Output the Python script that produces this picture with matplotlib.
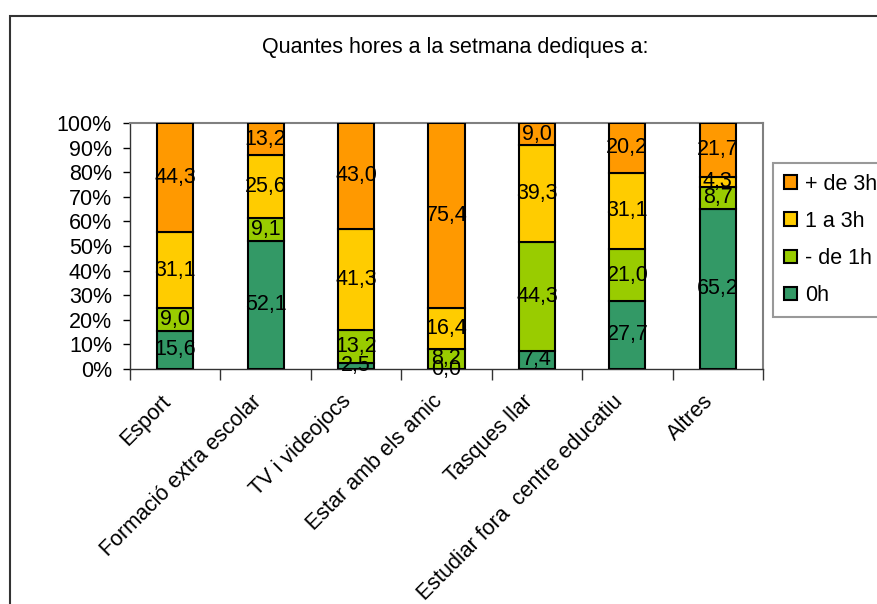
import matplotlib.pyplot as plt
from matplotlib.patches import Rectangle, Patch
from matplotlib.transforms import ScaledTranslation
import numpy as np

plt.rcParams['font.family'] = ['Liberation Sans', 'DejaVu Sans']

categories = ['Esport', 'Formació extra escolar', 'TV i videojocs',
              'Estar amb els amic', 'Tasques llar',
              'Estudiar fora  centre educatiu', 'Altres']
series_names = ['0h', '- de 1h', '1 a 3h', '+ de 3h']
h0 = [15.6, 52.1, 2.5, 0.0, 7.4, 27.7, 65.2]
menys1h = [9.0, 9.1, 13.2, 8.2, 44.3, 21.0, 8.7]
h1a3 = [31.1, 25.6, 41.3, 16.4, 39.3, 31.1, 4.3]
mes3h = [44.3, 13.2, 43.0, 75.4, 9.0, 20.2, 21.7]
colors = ['#339966', '#99CC00', '#FFCC00', '#FF9900']
fs = 15.5

fig = plt.figure(figsize=(8.77, 6.04), dpi=100)
# marc exterior del grafic
fig.patches.append(Rectangle((10 / 877, -0.1), 1.2, 1 - 16 / 604 + 0.1,
                             transform=fig.transFigure, fill=False,
                             edgecolor='#333333', linewidth=1.5))

ax = fig.add_axes([130 / 877, 1 - 369 / 604, 633 / 877, 246 / 604])
x = np.arange(len(categories))
bottom = np.zeros(len(categories))
for name, vals, col in zip(series_names, [h0, menys1h, h1a3, mes3h], colors):
    vals = np.array(vals)
    ax.bar(x, vals, 0.4, bottom=bottom, color=col, edgecolor='black',
           linewidth=1.5, label=name, zorder=3)
    for xi, b, v in zip(x, bottom, vals):
        ax.text(xi, b + v / 2, f'{v:.1f}'.replace('.', ','), ha='center',
                va='center', fontsize=fs, zorder=4)
    bottom += vals

ax.set_xlim(-0.5, len(categories) - 0.5)
ax.set_ylim(0, 100)
ax.set_yticks(np.arange(0, 101, 10))
ax.set_yticklabels([f'{v}%' for v in range(0, 101, 10)], fontsize=fs)
ax.tick_params(axis='y', length=5, width=1, pad=8)
ax.set_xticks(x)
ax.set_xticklabels(categories, rotation=45, ha='right', va='top',
                   rotation_mode='anchor', fontsize=fs)
ax.tick_params(axis='x', length=0, pad=0)
shift = ScaledTranslation(-0.15, -0.22, fig.dpi_scale_trans)
for lab in ax.get_xticklabels():
    lab.set_transform(lab.get_transform() + shift)
ax.set_xticks(np.arange(-0.5, len(categories)), minor=True)
ax.tick_params(axis='x', which='minor', length=8, width=1, color='#333333')
for side in ['top', 'right']:
    ax.spines[side].set_color('#808080')
    ax.spines[side].set_linewidth(1.5)
for side in ['left', 'bottom']:
    ax.spines[side].set_color('#333333')
    ax.spines[side].set_linewidth(1)

fig.text(455 / 877, 1 - 47 / 604, 'Quantes hores a la setmana dediques a:',
         ha='center', va='center', fontsize=fs)

handles = [Patch(facecolor=c, edgecolor='black', linewidth=1.5)
           for c in colors][::-1]
leg = fig.legend(handles, series_names[::-1], loc='upper left',
                 bbox_to_anchor=(773 / 877, 1 - 163 / 604), fontsize=fs,
                 frameon=True, fancybox=False, edgecolor='#808080',
                 handlelength=0.6, handleheight=0.6, handletextpad=0.4,
                 labelspacing=0.75, borderpad=0.5, borderaxespad=0)
leg.get_frame().set_linewidth(1.5)

fig.savefig('out.png', dpi=100)
